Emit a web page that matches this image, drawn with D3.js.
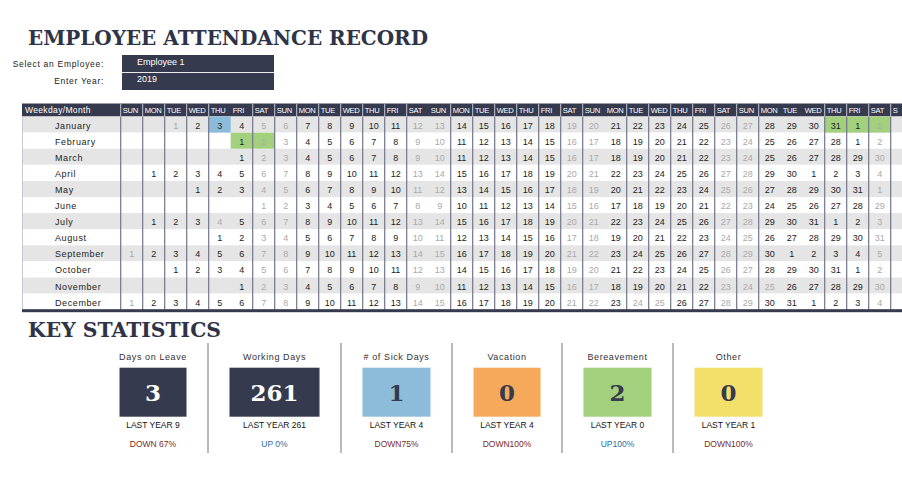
<!DOCTYPE html>
<html>
<head>
<meta charset="utf-8">
<script src="https://cdn.jsdelivr.net/npm/d3@7"></script>
<style>
  html, body { margin: 0; padding: 0; background: #fff; }
  svg { display: block; }
  text { font-family: "Liberation Sans", Arial, sans-serif; }
</style>
</head>
<body>
<svg id="chart" width="902" height="481"></svg>
<script>
// ---------------- DATA ----------------
const year = 2019;
const employeeName = "Employee 1";
const months = ["January","February","March","April","May","June","July","August","September","October","November","December"];
const monthStartCol = [2,5,5,1,3,6,1,4,0,2,5,0];   // weekday column of the 1st (0 = SUN)
const weekdays = ["SUN","MON","TUE","WED","THU","FRI","SAT"];
const columnCount = 36;       // 35 full columns + one cut at the right edge
const filledColumns = 35;
const holidays = ["2019-01-01","2019-07-04","2019-11-25","2019-12-24","2019-12-25"];
const sickDays = ["2019-01-03"];
const bereavementDays = ["2019-01-31","2019-02-01","2019-02-02"];

const statLabels = ["Days on Leave","Working Days","# of Sick Days","Vacation","Bereavement","Other"];
const statValues = [3, 261, 1, 0, 2, 0];
const statLastYear = [9, 261, 4, 4, 0, 1];
const statChange = ["DOWN 67%","UP 0%","DOWN75%","DOWN100%","UP100%","DOWN100%"];
const statDirection = ["down","up","down","down","up","down"];

// ---------------- STYLE ----------------
const navy = "#363a4f";
const boxFill = [navy, navy, "#8dbcdb", "#f6a95a", "#a2d07c", "#f3e06a"];
const boxText = ["#ffffff", "#ffffff", navy, navy, navy, navy];
const sickColor = "#8dbcdb", bereaveColor = "#a2d07c";
const noLineBefore = new Set([5, 14, 22, 30, 31]);

const svg = d3.select("#chart");

// Title
svg.append("text").attr("x", 28).attr("y", 45)
  .attr("textLength", 400).attr("lengthAdjust", "spacingAndGlyphs")
  .style("font-family", "'DejaVu Serif', 'Liberation Serif', serif")
  .style("font-weight", "bold").style("font-size", "21px").attr("fill", "#2e3347")
  .text("EMPLOYEE ATTENDANCE RECORD");

// Inputs
const inputs = [["Select an Employee:", employeeName], ["Enter Year:", String(year)]];
const inY = d3.scaleBand().domain([0,1]).range([55, 90]).paddingInner(0.05);
inputs.forEach((d, i) => {
  svg.append("text").attr("x", 104).attr("y", inY(i) + inY.bandwidth()/2 + 3)
    .attr("text-anchor", "end").style("font-size", "8.5px").style("letter-spacing", "0.7px")
    .attr("fill", "#222").text(d[0]);
  svg.append("rect").attr("x", 122).attr("y", inY(i)).attr("width", 152).attr("height", inY.bandwidth())
    .attr("fill", navy);
  svg.append("text").attr("x", 137).attr("y", inY(i) + inY.bandwidth()/2 + 1)
    .style("font-size", "9px").attr("fill", "#fff").text(d[1]);
});

// ---------------- CALENDAR GRID ----------------
const gridLeft = 22, gridRight = 902, labelRight = 120.7, colW = 22;
const headerTop = 103.5, headerH = 13;
const x = d3.scaleBand().domain(d3.range(columnCount))
  .range([labelRight, labelRight + colW * columnCount]);
const y = d3.scaleBand().domain(d3.range(months.length))
  .range([headerTop + headerH, headerTop + headerH + 16.1 * months.length]);
const gridBottom = y.range()[1];

// header band
svg.append("rect").attr("x", gridLeft).attr("y", headerTop).attr("width", gridRight - gridLeft)
  .attr("height", headerH).attr("fill", navy);
svg.append("text").attr("x", 25).attr("y", headerTop + headerH/2 + 3)
  .style("font-size", "8.5px").style("letter-spacing", "0.35px").attr("fill", "#fff")
  .text("Weekday/Month");
svg.selectAll(".hdr").data(d3.range(columnCount)).join("text")
  .attr("x", c => x(c) + 2).attr("y", headerTop + headerH/2 + 3)
  .style("font-size", "7.6px").style("letter-spacing", "-0.3px").attr("fill", "#fff")
  .text(c => c < filledColumns ? weekdays[c % 7] : weekdays[c % 7].charAt(0));

// row bands
svg.selectAll(".band").data(d3.range(months.length)).join("rect")
  .attr("x", gridLeft).attr("y", r => y(r)).attr("width", gridRight - gridLeft)
  .attr("height", y.bandwidth()).attr("fill", r => r % 2 === 0 ? "#e5e5e5" : "#ffffff");

// cells
const fmt = d3.timeFormat("%Y-%m-%d");
const cells = [];
months.forEach((m, r) => {
  for (let c = monthStartCol[r]; c < filledColumns; c++) {
    const date = new Date(year, r, 1 + c - monthStartCol[r]);
    const key = fmt(date);
    const wd = c % 7;
    const grey = wd === 0 || wd === 6 || holidays.includes(key);
    let fill = null;
    if (sickDays.includes(key)) fill = sickColor;
    if (bereavementDays.includes(key)) fill = bereaveColor;
    cells.push({ r, c, day: date.getDate(), grey, fill });
  }
});
svg.selectAll(".hl").data(cells.filter(d => d.fill)).join("rect")
  .attr("x", d => x(d.c)).attr("y", d => y(d.r)).attr("width", x.bandwidth())
  .attr("height", y.bandwidth()).attr("fill", d => d.fill);
svg.selectAll(".num").data(cells).join("text")
  .attr("x", d => x(d.c) + x.bandwidth()/2).attr("y", d => y(d.r) + y.bandwidth()/2 + 4)
  .attr("text-anchor", "middle").style("font-size", "9px")
  .attr("fill", d => d.grey ? "#a9a9a9" : "#222").text(d => d.day);

// month labels
svg.selectAll(".mon").data(months).join("text")
  .attr("x", 55).attr("y", (d, r) => y(r) + y.bandwidth()/2 + 4)
  .style("font-size", "9px").style("letter-spacing", "0.6px").attr("fill", "#222").text(d => d);

// vertical lines
svg.append("line").attr("x1", gridLeft + 0.5).attr("x2", gridLeft + 0.5)
  .attr("y1", headerTop + headerH).attr("y2", gridBottom).attr("stroke", "#c8c8d0").attr("stroke-width", 1);
const bounds = d3.range(columnCount).filter(c => !noLineBefore.has(c));
svg.selectAll(".vl").data(bounds).join("line")
  .attr("x1", c => x(c)).attr("x2", c => x(c))
  .attr("y1", headerTop + headerH).attr("y2", gridBottom)
  .attr("stroke", "#74748a").attr("stroke-width", 1.2);
svg.selectAll(".vlh").data(bounds).join("line")
  .attr("x1", c => x(c)).attr("x2", c => x(c))
  .attr("y1", headerTop).attr("y2", headerTop + headerH)
  .attr("stroke", "#c4c5d0").attr("stroke-width", 1);

// bottom rule
svg.append("rect").attr("x", gridLeft).attr("y", gridBottom - 0.5).attr("width", gridRight - gridLeft)
  .attr("height", 3).attr("fill", navy);

// ---------------- KEY STATISTICS ----------------
svg.append("text").attr("x", 28).attr("y", 337)
  .attr("textLength", 193).attr("lengthAdjust", "spacingAndGlyphs")
  .style("font-family", "'DejaVu Serif', 'Liberation Serif', serif")
  .style("font-weight", "bold").style("font-size", "21px").attr("fill", "#2e3347")
  .text("KEY STATISTICS");

const panelWidths = [110, 133, 111, 110, 111, 111];
const panelEdges = [98];
panelWidths.forEach(w => panelEdges.push(panelEdges[panelEdges.length - 1] + w));
const stats = statLabels.map((label, i) => ({
  label, value: statValues[i], last: statLastYear[i], change: statChange[i], dir: statDirection[i], i,
  cx: (panelEdges[i] + panelEdges[i + 1]) / 2, w: panelWidths[i] - 43
}));

svg.selectAll(".div").data(panelEdges.slice(1, 6)).join("line")
  .attr("x1", d => d).attr("x2", d => d).attr("y1", 343).attr("y2", 453)
  .attr("stroke", "#8a8a99").attr("stroke-width", 1.2);

const g = svg.selectAll(".stat").data(stats).join("g");
g.append("text").attr("x", d => d.cx).attr("y", 360).attr("text-anchor", "middle")
  .style("font-size", "9px").style("letter-spacing", "0.6px").attr("fill", "#333").text(d => d.label);
g.append("rect").attr("x", d => d.cx - d.w / 2).attr("y", 367.7).attr("width", d => d.w).attr("height", 49)
  .attr("fill", d => boxFill[d.i]);
g.append("text").attr("x", d => d.cx).attr("y", 400.5).attr("text-anchor", "middle")
  .style("font-family", "'DejaVu Serif', 'Liberation Serif', serif").style("font-weight", "bold")
  .style("font-size", "23px").attr("fill", d => boxText[d.i]).text(d => d.value);
g.append("text").attr("x", d => d.cx).attr("y", 428).attr("text-anchor", "middle")
  .style("font-size", "8.5px").attr("fill", "#111").text(d => "LAST YEAR " + d.last);
g.append("text").attr("x", d => d.cx).attr("y", 447).attr("text-anchor", "middle")
  .style("font-size", "8.5px").attr("fill", d => d.dir === "up" ? "#2a6f9e" : "#7a2b1f").text(d => d.change);
</script>
</body>
</html>
